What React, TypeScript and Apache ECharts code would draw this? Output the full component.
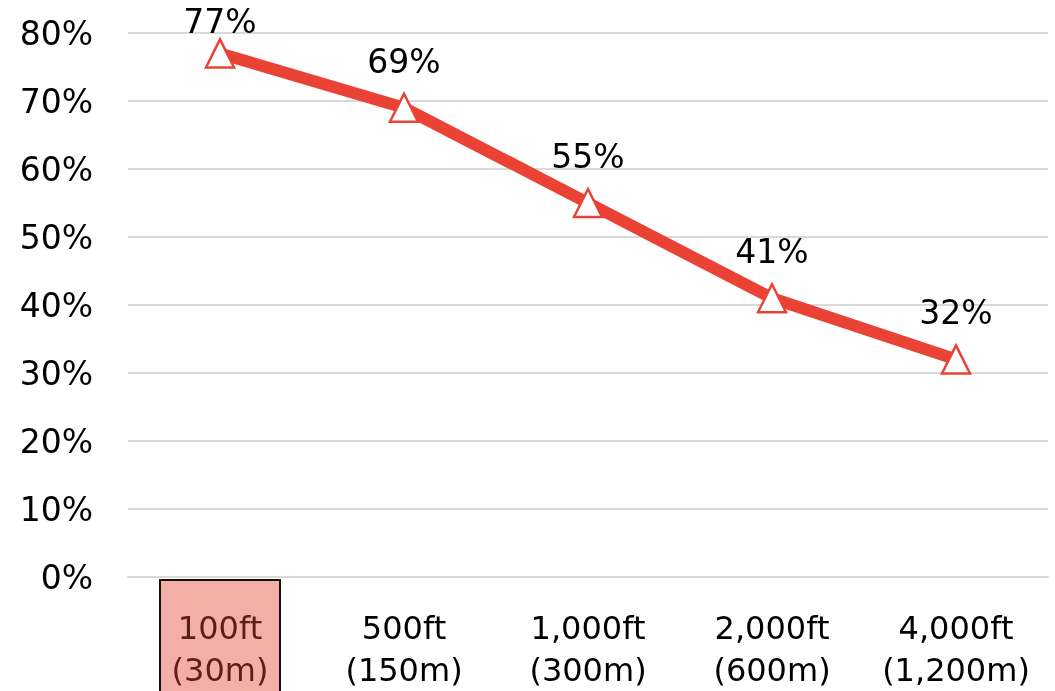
import React, { useEffect, useRef } from "react";
import * as echarts from "echarts";

const categories = ["100ft\n(30m)", "500ft\n(150m)", "1,000ft\n(300m)", "2,000ft\n(600m)", "4,000ft\n(1,200m)"];
const values = [77, 69, 55, 41, 32];
const highlightIndex = 0;

const FONT = "'DejaVu Sans', sans-serif";

export default function App() {
  const ref = useRef<HTMLDivElement>(null);
  useEffect(() => {
    if (!ref.current) return;
    const chart = echarts.init(ref.current, null, { renderer: "svg" });
    chart.setOption({
      animation: false,
      textStyle: { fontFamily: FONT },
      grid: { left: 128, right: 7, top: 33, bottom: 112, containLabel: false },
      xAxis: {
        type: "category",
        data: categories,
        boundaryGap: true,
        axisLine: { show: true, lineStyle: { color: "#d9d9d9", width: 2 } },
        axisTick: { show: false },
        z: 10,
        axisLabel: {
          interval: 0,
          hideOverlap: false,
          fontSize: 32,
          lineHeight: 42,
          margin: 30,
          fontFamily: FONT,
          color: (v: string, i: number) => (i === highlightIndex ? "#5b1f18" : "#000000"),
        },
      },
      yAxis: {
        type: "value",
        min: 0,
        max: 80,
        interval: 10,
        axisLine: { show: false },
        axisTick: { show: false },
        splitLine: { lineStyle: { color: "#d9d9d9", width: 2 } },
        axisLabel: { formatter: "{value}%", fontSize: 33, color: "#000", margin: 35, fontFamily: FONT },
      },
      series: [
        {
          type: "line",
          data: values.map((v, i) => (i === 0 ? { value: v, label: { distance: 0 } } : v)),
          lineStyle: { color: "#ea4335", width: 12 },
          itemStyle: { color: "#ffffff", borderColor: "#ea4335", borderWidth: 2.5 },
          symbol: "triangle",
          symbolSize: 28,
          showAllSymbol: true,
          label: {
            show: true,
            position: "top",
            distance: 15,
            formatter: "{c}%",
            fontSize: 33,
            color: "#000",
            fontFamily: FONT,
          },
          z: 5,
        },
      ],
    });
    const [cx, y0] = chart.convertToPixel({ xAxisIndex: 0, yAxisIndex: 0 }, [highlightIndex, 0]);
    chart.setOption({
      graphic: [
        {
          type: "rect",
          shape: { x: cx - 60, y: y0 + 3, width: 120, height: 140 },
          style: { fill: "#f4aea8", stroke: "#111", lineWidth: 2 },
          z: -1,
          silent: true,
        },
      ],
    });
    return () => chart.dispose();
  }, []);
  return <div ref={ref} style={{ position: "fixed", left: 0, top: 0, width: 1055, height: 691 }} />;
}
